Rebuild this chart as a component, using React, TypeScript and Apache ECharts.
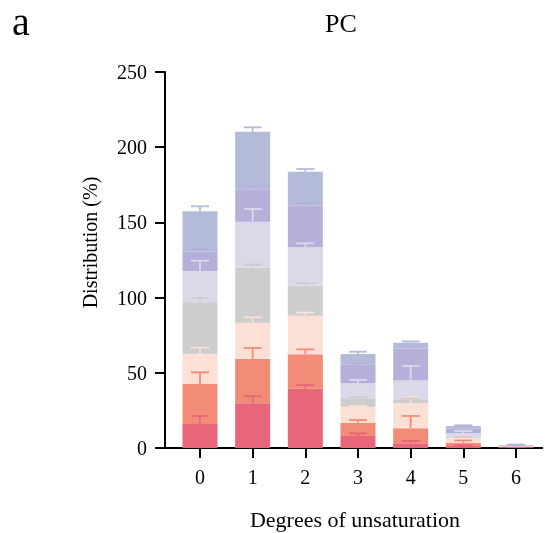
import React, { useEffect, useRef } from "react";
import * as echarts from "echarts";

const categories = ["0", "1", "2", "3", "4", "5", "6"];
const layerNames = ["Layer 1", "Layer 2", "Layer 3", "Layer 4", "Layer 5", "Layer 6", "Layer 7"];
const layerColors = ["#E8667A", "#F28C76", "#FDE0D5", "#CDCDCD", "#DAD9EA", "#B5B0D9", "#B3BBD9"];

const layer1 = [16.0, 29.7, 39.4, 8.0, 3.1, 1.3, 0.4];
const layer2 = [26.8, 29.5, 22.9, 8.8, 10.0, 2.2, 0.6];
const layer3 = [19.9, 24.1, 25.7, 10.7, 16.6, 3.1, 0.2];
const layer4 = [34.2, 36.6, 19.9, 5.5, 2.7, 0.5, 0.1];
const layer5 = [20.8, 30.6, 25.5, 10.0, 12.4, 2.7, 0.2];
const layer6 = [12.8, 21.5, 27.7, 12.7, 21.4, 3.3, 0.2];
const layer7 = [26.9, 38.3, 22.6, 6.8, 3.8, 1.5, 0.3];

const err1 = [5.3, 4.7, 2.5, 1.7, 1.6, 0.5, 0.2];
const err2 = [7.5, 7.3, 3.3, 1.8, 8.2, 1.5, 0.2];
const err3 = [4.0, 3.6, 2.0, 0.4, 4.0, 1.5, 0.1];
const err4 = [2.8, 2.0, 1.6, 0.7, 0.5, 0.5, 0.1];
const err5 = [6.8, 8.4, 2.7, 2.2, 9.7, 1.5, 0.1];
const err6 = [1.8, 2.4, 1.6, 0.6, 1.2, 1.0, 0.1];
const err7 = [3.3, 2.9, 1.8, 1.5, 0.9, 0.5, 0.3];

const yTicks = [0, 50, 100, 150, 200, 250];

const layers = [layer1, layer2, layer3, layer4, layer5, layer6, layer7];
const errors = [err1, err2, err3, err4, err5, err6, err7];

const FONT = '"Liberation Serif", "Times New Roman", serif';

export default function App() {
  const ref = useRef<HTMLDivElement>(null);
  useEffect(() => {
    if (!ref.current) return;
    const chart = echarts.init(ref.current, null, { renderer: "svg" });

    const cum = categories.map(() => 0);
    const barSeries: any[] = [];
    const errSeries: any[] = [];
    layers.forEach((vals, li) => {
      barSeries.push({
        name: layerNames[li],
        type: "bar",
        stack: "total",
        barWidth: 35,
        itemStyle: { color: layerColors[li] },
        data: vals,
        z: 2,
      });
      const errData = vals.map((v, ci) => {
        const top = cum[ci] + v;
        cum[ci] = top;
        return [ci, top, top + errors[li][ci]];
      });
      errSeries.push({
        name: layerNames[li] + " error",
        type: "custom",
        z: 10,
        data: errData,
        renderItem: (params: any, api: any) => {
          const lo = api.coord([api.value(0), api.value(1)]);
          const hi = api.coord([api.value(0), api.value(2)]);
          const half = 9;
          const style = { stroke: layerColors[li], lineWidth: 1.8, fill: "none" };
          return {
            type: "group",
            children: [
              { type: "line", shape: { x1: lo[0], y1: lo[1], x2: hi[0], y2: hi[1] }, style },
              { type: "line", shape: { x1: hi[0] - half, y1: hi[1], x2: hi[0] + half, y2: hi[1] }, style },
            ],
          };
        },
      });
    });

    const gridLeft = 173.67;
    chart.setOption({
      animation: false,
      grid: { left: gridLeft, right: 8.67, top: 72, bottom: 85 },
      xAxis: {
        type: "category",
        data: categories,
        axisLine: { lineStyle: { color: "#000", width: 2 } },
        axisTick: { show: true, alignWithLabel: true, length: 10, lineStyle: { color: "#000", width: 2 } },
        axisLabel: { color: "#000", fontFamily: FONT, fontSize: 20, margin: 19 },
      },
      yAxis: {
        type: "value",
        min: 0,
        max: yTicks[yTicks.length - 1],
        interval: 50,
        offset: gridLeft - 165,
        splitLine: { show: false },
        axisLine: { show: true, lineStyle: { color: "#000", width: 2 } },
        axisTick: { show: true, length: 10, lineStyle: { color: "#000", width: 2 } },
        axisLabel: { color: "#000", fontFamily: FONT, fontSize: 20, margin: 18 },
      },
      graphic: [
        { type: "line", shape: { x1: 164, y1: 448, x2: gridLeft + 1, y2: 448 }, style: { stroke: "#000", lineWidth: 2 } },
        { type: "text", x: 12, y: 21.5, style: { text: "a", fontFamily: FONT, fontSize: 40, fill: "#000", verticalAlign: "middle", align: "left" } },
        { type: "text", x: 341, y: 23.6, style: { text: "PC", fontFamily: FONT, fontSize: 26, fill: "#000", verticalAlign: "middle", align: "center" } },
        { type: "text", x: 355, y: 519, style: { text: "Degrees of unsaturation", fontFamily: FONT, fontSize: 22, fill: "#000", verticalAlign: "middle", align: "center" } },
        { type: "text", x: 90, y: 242.5, rotation: Math.PI / 2, style: { text: "Distribution (%)", fontFamily: FONT, fontSize: 20, fill: "#000", verticalAlign: "middle", align: "center" } },
      ],
      series: [...barSeries, ...errSeries],
    });
    return () => chart.dispose();
  }, []);
  return <div ref={ref} style={{ position: "fixed", left: 0, top: 0, width: 551, height: 533 }} />;
}
